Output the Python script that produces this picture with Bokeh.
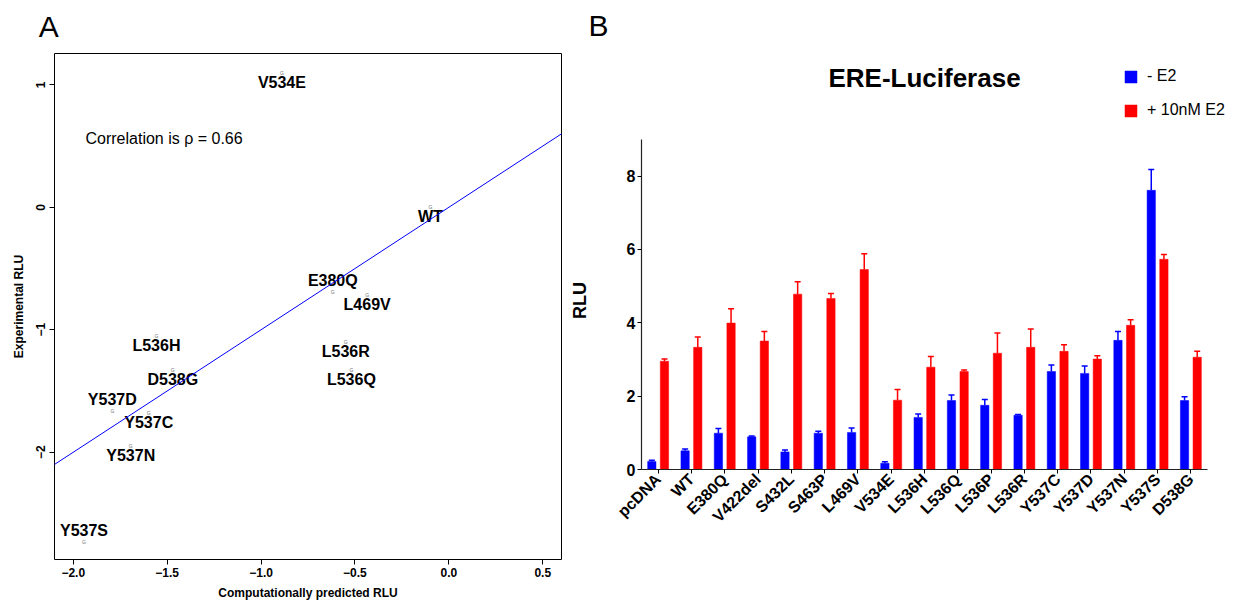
import math
from bokeh.plotting import figure
from bokeh.models import (Range1d, FixedTicker, Label, Slope, ColumnDataSource,
                          Legend, LegendItem, Title)
from bokeh.layouts import row
from bokeh.core.properties import value
from bokeh.embed import file_html
from bokeh.resources import INLINE

FONT = "Liberation Sans"

# ---------------- Panel A data ----------------
mutants = ["V534E", "WT", "E380Q", "L469V", "L536H", "L536R", "D538G",
           "L536Q", "Y537D", "Y537C", "Y537N", "Y537S"]
predicted = [-0.889, -0.098, -0.618, -0.435, -1.557, -0.549, -1.470,
             -0.519, -1.792, -1.598, -1.694, -1.943]
experimental = [1.098, 0.0, -0.691, -0.713, -1.050, -1.099, -1.327,
                -1.327, -1.661, -1.678, -1.953, -2.730]
label_pos = [1, 1, 3, 1, 1, 1, 1, 1, 3, 1, 1, 3]   # R-style: 1 below, 3 above
fit_slope = 1.0
fit_intercept = 0.0
rho = 0.66

xa_ticks = [-2.0, -1.5, -1.0, -0.5, 0.0, 0.5]
xa_labels = ["\u22122.0", "\u22121.5", "\u22121.0", "\u22120.5", "0.0", "0.5"]
ya_ticks = [-2.0, -1.0, 0.0, 1.0]
ya_labels = ["\u22122", "\u22121", "0", "1"]

# ---------------- Panel B data ----------------
categories = ["pcDNA", "WT", "E380Q", "V422del", "S432L", "S463P", "L469V",
              "V534E", "L536H", "L536Q", "L536P", "L536R", "Y537C", "Y537D",
              "Y537N", "Y537S", "D538G"]
minus_e2 = [0.22, 0.51, 0.99, 0.89, 0.48, 0.99, 1.01, 0.17, 1.42, 1.88,
            1.75, 1.48, 2.67, 2.62, 3.52, 7.61, 1.88]
minus_err = [0.03, 0.05, 0.13, 0.02, 0.05, 0.05, 0.12, 0.04, 0.09, 0.15,
             0.16, 0.02, 0.18, 0.20, 0.24, 0.57, 0.10]
plus_e2 = [2.95, 3.33, 3.99, 3.50, 4.78, 4.66, 5.45, 1.89, 2.79, 2.67,
           3.17, 3.33, 3.22, 3.01, 3.93, 5.73, 3.06]
plus_err = [0.06, 0.28, 0.39, 0.26, 0.34, 0.14, 0.43, 0.29, 0.29, 0.04,
            0.55, 0.50, 0.18, 0.09, 0.15, 0.13, 0.16]
yb_ticks = [0, 2, 4, 6, 8]
series_names = ["- E2", "+ 10nM E2"]
series_colors = ["#0000FF", "#FF0000"]


def no_align(p):
    if "frame_align" in p.properties():
        p.frame_align = False


# ================= Panel A =================
pa = figure(width=566, height=602, x_range=Range1d(-2.1, 0.6),
            y_range=Range1d(-2.876, 1.256), output_backend="svg",
            toolbar_location=None, title=None,
            min_border_left=54, min_border_right=5,
            min_border_top=53, min_border_bottom=42)
no_align(pa)
pa.xgrid.visible = False
pa.ygrid.visible = False
pa.outline_line_color = "black"
pa.outline_line_width = 1
pa.background_fill_color = "white"
pa.border_fill_color = "white"

for ax in (pa.xaxis[0], pa.yaxis[0]):
    ax.axis_line_color = None
    ax.major_tick_in = 0
    ax.major_tick_out = 5
    ax.minor_tick_line_color = None
    ax.major_tick_line_color = "black"
    ax.major_label_text_font = FONT
    ax.major_label_text_font_style = "bold"
    ax.major_label_text_font_size = "12px"
    ax.major_label_text_color = "black"
    ax.axis_label_text_font = FONT
    ax.axis_label_text_font_style = "bold"
    ax.axis_label_text_font_size = "12px"
    ax.axis_label_text_color = "black"

pa.xaxis.ticker = FixedTicker(ticks=xa_ticks)
pa.xaxis.major_label_overrides = dict(zip(xa_ticks, xa_labels))
pa.xaxis.major_label_standoff = 3
pa.xaxis.axis_label = "Computationally predicted RLU"
pa.xaxis.axis_label_standoff = 6
pa.yaxis.ticker = FixedTicker(ticks=ya_ticks)
pa.yaxis.major_label_overrides = dict(zip(ya_ticks, ya_labels))
pa.yaxis.major_label_orientation = "parallel"
pa.yaxis.major_label_standoff = 4
pa.yaxis.axis_label = "Experimental RLU"
pa.yaxis.axis_label_standoff = 8

pa.add_layout(Slope(gradient=fit_slope, y_intercept=fit_intercept,
                    line_color="#0000FF", line_width=1))

src_a = ColumnDataSource(dict(
    x=predicted, y=experimental, label=mutants,
    dy=[9.5 if p == 1 else -11 for p in label_pos]))
pa.text(x="x", y="y", text=value("G"), source=src_a,
        text_font=value(FONT), text_font_size="5px", text_color="#707070",
        text_align="center", text_baseline="middle")
pa.text(x="x", y="y", text="label", y_offset="dy", source=src_a,
        text_font=value(FONT), text_font_style="bold",
        text_font_size="16px", text_color="black",
        text_align="center", text_baseline="middle")

pa.add_layout(Label(x=-1.935, y=0.563, text=f"Correlation is \u03c1 = {rho}",
                    text_font=FONT, text_font_size="16px",
                    text_color="black", text_baseline="alphabetic"))
pa.add_layout(Title(text="A", align="left", offset=-15.7, standoff=17,
                    vertical_align="top", text_font=FONT,
                    text_font_style="normal", text_font_size="30px",
                    text_color="black"), "above")

# ================= Panel B =================
n = len(categories)
pb = figure(width=667, height=602, x_range=Range1d(0, 17.78),
            y_range=Range1d(0, 11.53), output_backend="svg",
            toolbar_location=None, title=None,
            min_border_left=75, min_border_right=0,
            min_border_top=46, min_border_bottom=133)
no_align(pb)
pb.xgrid.visible = False
pb.ygrid.visible = False
pb.outline_line_color = None
pb.background_fill_color = "white"
pb.border_fill_color = "white"

centers = [i + 0.5 for i in range(n)]
off = 0.19
bw = 0.25
cap = 0.09

renderers = []
for vals, errs, sign, color in ((minus_e2, minus_err, -1, series_colors[0]),
                                (plus_e2, plus_err, 1, series_colors[1])):
    xs = [c + sign * off for c in centers]
    src = ColumnDataSource(dict(
        x=xs, top=vals, etop=[v + e for v, e in zip(vals, errs)],
        x0=[x - cap for x in xs], x1=[x + cap for x in xs]))
    r = pb.vbar(x="x", top="top", bottom=0, width=bw, source=src,
                fill_color=color, line_color=color, line_width=0.5)
    pb.segment(x0="x", y0="top", x1="x", y1="etop", source=src,
               line_color=color, line_width=1.5)
    pb.segment(x0="x0", y0="etop", x1="x1", y1="etop", source=src,
               line_color=color, line_width=1.5)
    renderers.append(r)

xa = pb.xaxis[0]
xa.ticker = FixedTicker(ticks=centers)
xa.bounds = (0, n)
xa.major_label_overrides = dict(zip(centers, categories))
xa.major_label_orientation = math.pi / 4
xa.major_label_text_font = FONT
xa.major_label_text_font_style = "bold"
xa.major_label_text_font_size = "16px"
xa.major_label_text_color = "black"
xa.major_label_standoff = 3
xa.major_tick_in = 0
xa.major_tick_out = 4
xa.minor_tick_line_color = None
xa.axis_line_color = "#222222"
xa.axis_line_width = 1.2

ya = pb.yaxis[0]
ya.ticker = FixedTicker(ticks=yb_ticks)
ya.bounds = (0, 9)
ya.major_label_text_font = FONT
ya.major_label_text_font_style = "bold"
ya.major_label_text_font_size = "16px"
ya.major_label_text_color = "black"
ya.major_label_standoff = 2
ya.major_tick_in = 0
ya.major_tick_out = 4
ya.minor_tick_line_color = None
ya.axis_line_color = "#222222"
ya.axis_line_width = 1.2
# trailing no-break spaces shift the visible "RLU" down to the 0-9 axis centre
ya.axis_label = "RLU" + "\u00a0" * 17
ya.axis_label_text_font = FONT
ya.axis_label_text_font_style = "bold"
ya.axis_label_text_font_size = "18px"
ya.axis_label_text_color = "black"
ya.axis_label_standoff = 34

legend = Legend(items=[LegendItem(label=series_names[0], renderers=[renderers[0]]),
                       LegendItem(label=series_names[1], renderers=[renderers[1]])],
                location=(482, 350), orientation="vertical",
                glyph_width=15, glyph_height=15, label_height=15,
                label_standoff=9, spacing=16, padding=0, margin=0,
                border_line_color=None, background_fill_alpha=0,
                label_text_font=FONT, label_text_font_size="16px",
                label_text_color="black")
pb.add_layout(legend, "center")

pb.add_layout(Label(x=n / 2, y=10.68, text="ERE-Luciferase", text_font=FONT,
                    text_font_style="bold", text_font_size="26px",
                    text_color="black", text_align="center",
                    text_baseline="alphabetic"))
pb.add_layout(Title(text="B", align="left", offset=-53, standoff=10,
                    vertical_align="bottom", text_font=FONT,
                    text_font_style="normal", text_font_size="30px",
                    text_color="black"), "above")

layout = row(pa, pb)
open("out.html", "w").write(file_html(layout, INLINE))
